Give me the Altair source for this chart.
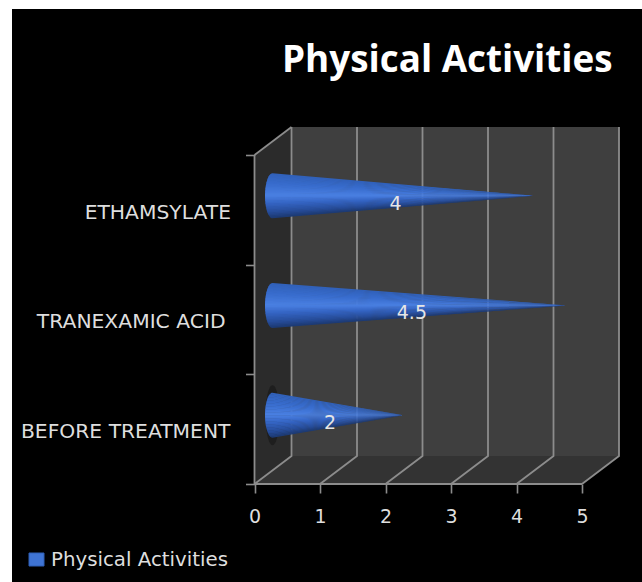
import math
import altair as alt
import pandas as pd

# Chart content
CATEGORIES = ["BEFORE TREATMENT", "TRANEXAMIC ACID", "ETHAMSYLATE"]
VALUES = [2, 4.5, 4]
X_TICKS = [0, 1, 2, 3, 4, 5]
Y_TICKS = [0, 1, 2, 3]
SERIES = "Physical Activities"
FONT = "DejaVu Sans"
TITLE_FONT = "Open Sans"
TEXT = "#dedede"
LINE = "#8c8c8c"

# Canvas layout, pixels
W, H = 642, 582
X0, X_UNIT = 254.5, 65.5
Y0, Y_UNIT = 484.0, 109.67
LABEL_RIGHT = [230.5, 225.5, 231]   # right edge of each category label
x_scale = alt.Scale(domain=[-X0 / X_UNIT, (W - X0) / X_UNIT], nice=False, zero=False)
y_scale = alt.Scale(domain=[(Y0 - H) / Y_UNIT, Y0 / Y_UNIT], nice=False, zero=False)

# Oblique depth of the 3D box, in axis units
DX = 37 / X_UNIT
DY = 28 / Y_UNIT
N = len(CATEGORIES)
XMAX = X_TICKS[-1]

# Axes shared by every layer; the numeric labels and all ticks are real axis parts
x_axis_def = alt.Axis(
    values=X_TICKS, format="d", offset=-(H - Y0), grid=False, domain=False, zindex=1,
    tickColor=LINE, tickSize=9, tickWidth=1.6, labelColor=TEXT, labelFont=FONT,
    labelFontSize=19, labelPadding=14,
)
y_axis_def = alt.Axis(
    values=Y_TICKS, labels=False, offset=-X0, grid=False, domain=False, zindex=1,
    tickColor=LINE, tickSize=9, tickWidth=1.6,
)
X = alt.X("x:Q", scale=x_scale, title=None, axis=x_axis_def)
Y = alt.Y("y:Q", scale=y_scale, title=None, axis=y_axis_def)


def polygon_area(rows, color, orient="vertical"):
    return (
        alt.Chart(pd.DataFrame(rows))
        .mark_area(color=color, orient=orient, strokeWidth=0)
        .encode(X, Y, x2="x2:Q" if orient == "horizontal" else alt.Undefined,
                y2="y2:Q" if orient == "vertical" else alt.Undefined)
    )


panel = alt.Chart(pd.DataFrame({"a": [0]})).mark_rect(color="#000000").encode(
    x=alt.value(12), x2=alt.value(W), y=alt.value(9), y2=alt.value(H)
)

# Walls and floor
back_wall = alt.Chart(pd.DataFrame([{"x": DX, "x2": XMAX + DX, "y": DY, "y2": N + DY}])).mark_rect(
    color="#3f3f3f"
).encode(X, x2="x2:Q", y=Y, y2="y2:Q")
side_wall = polygon_area([{"x": 0, "y": 0, "y2": N}, {"x": DX, "y": DY, "y2": N + DY}], "#2b2b2b")
floor = polygon_area([{"y": 0, "x": 0, "x2": XMAX}, {"y": DY, "x": DX, "x2": XMAX + DX}], "#333333", "horizontal")

# Box edges and gridlines
segments = []
for t in X_TICKS:
    segments += [
        {"id": f"g{t}", "x": t, "y": 0},
        {"id": f"g{t}", "x": t + DX, "y": DY},
        {"id": f"g{t}", "x": t + DX, "y": N + DY},
    ]
segments += [{"id": "front", "x": 0, "y": 0}, {"id": "front", "x": XMAX, "y": 0}]
segments += [{"id": "left", "x": 0, "y": 0}, {"id": "left", "x": 0, "y": N}]
segments += [{"id": "topleft", "x": 0, "y": N}, {"id": "topleft", "x": DX, "y": N + DY}]
seg_df = pd.DataFrame(segments)
seg_df["o"] = range(len(seg_df))
grid = alt.Chart(seg_df).mark_line(color=LINE, strokeWidth=1.8).encode(
    X, Y, detail="id:N", order="o:Q"
)

# Cone geometry
CONE_DX = 18 / X_UNIT       # base centre, measured from the front plane
CONE_DY = 14 / Y_UNIT
CAP = 7.5 / X_UNIT
RADIUS = 22.5 / Y_UNIT
SHADES = [
    (-1.0, (48, 96, 184)), (-0.5, (56, 108, 205)), (0.0, (74, 128, 226)),
    (0.35, (52, 100, 195)), (0.75, (38, 76, 152)), (1.0, (28, 56, 112)),
]
STRIPS = 30


def shade(f):
    for (a, ca), (b, cb) in zip(SHADES, SHADES[1:]):
        if a <= f <= b:
            t = (f - a) / (b - a)
            return "#%02x%02x%02x" % tuple(round(p + (q - p) * t) for p, q in zip(ca, cb))
    return "#1c3870"


def cone_rows(idx, value):
    cy = idx + 0.5 + CONE_DY
    xc = CONE_DX
    rows = []
    for s in range(STRIPS):
        f0 = -1 + 2 * s / STRIPS
        f1 = min(1.0, f0 + 2 / STRIPS + 0.03)
        color = shade((f0 + f1) / 2)
        xs = [xc - CAP * math.cos(k / 12 * math.pi / 2) for k in range(13)] + [xc + value]
        for x in xs:
            limit = 1.0 if x >= xc else math.sqrt(max(0, 1 - ((xc - x) / CAP) ** 2))
            radius = RADIUS * (1 - max(0, x - xc) / value)
            top, bottom = max(f0, -limit), min(f1, limit)
            if top > bottom:
                top = bottom = max(-limit, min(limit, f0))
            rows.append({"cat": idx, "strip": s, "shade": color, "x": x,
                         "y": cy - radius * top, "y2": cy - radius * bottom})
    return rows


cone_df = pd.DataFrame([r for i, v in enumerate(VALUES) for r in cone_rows(i, v)])
cones = alt.Chart(cone_df).mark_area(orient="vertical", strokeWidth=0).encode(
    X, Y, y2="y2:Q", color=alt.Color("shade:N", scale=None, legend=None), detail=["cat:N", "strip:N"]
)

# Soft contact shadow behind the lowest cone
shadow_rows = []
for k in range(17):
    u = -1 + k / 8
    half = 30 / Y_UNIT * math.sqrt(1 - u ** 2)
    cy = 0.5 + CONE_DY
    shadow_rows.append({"x": CONE_DX + u * 7 / X_UNIT, "y": cy - half, "y2": cy + half})
shadow = alt.Chart(pd.DataFrame(shadow_rows)).mark_area(color="#161616", opacity=0.6, strokeWidth=0).encode(
    X, Y, y2="y2:Q"
)

# Value labels
value_df = pd.DataFrame({
    "value": VALUES,
    "x": [v / 2 + 10 / X_UNIT for v in VALUES],
    "y": [i + 0.5 - 8 / Y_UNIT + CONE_DY for i in range(N)],
})
value_labels = alt.Chart(value_df).mark_text(
    font=FONT, fontSize=19, color="#e6e6e6", align="center", baseline="middle"
).encode(X, Y, text="value:Q")

# Category labels
cat_df = pd.DataFrame({
    "label": CATEGORIES,
    "x": [(r - X0) / X_UNIT for r in LABEL_RIGHT],
    "y": [i + 0.5 - 3 / Y_UNIT for i in range(N)],
})
cat_labels = alt.Chart(cat_df).mark_text(
    font=FONT, fontSize=20.3, color=TEXT, align="right", baseline="middle"
).encode(X, Y, text="label:N")

# Legend
legend_swatch = alt.Chart(pd.DataFrame({"a": [0]})).mark_rect(
    color="#3f74d4", stroke="#2f5fb5"
).encode(x=alt.value(29), x2=alt.value(44), y=alt.value(553), y2=alt.value(566))
legend_text = alt.Chart(pd.DataFrame({"t": [SERIES]})).mark_text(
    font=FONT, fontSize=19.8, color=TEXT, align="left", baseline="middle"
).encode(x=alt.value(51), y=alt.value(560), text="t:N")

chart = alt.layer(
    panel, back_wall, side_wall, floor, grid, shadow, cones, value_labels, cat_labels,
    legend_swatch, legend_text,
).properties(
    width=W, height=H, padding=0, background="#ffffff",
    autosize=alt.AutoSizeParams(type="none"),
    title=alt.TitleParams(
        SERIES, font=TITLE_FONT, fontSize=36.8, fontWeight="bold", color="#ffffff",
        anchor="start", orient="top", baseline="middle", offset=0, dx=282, dy=98,
    ),
).configure_view(strokeWidth=0)

chart.save("out.html", embed_options={"renderer": "svg", "actions": False})
